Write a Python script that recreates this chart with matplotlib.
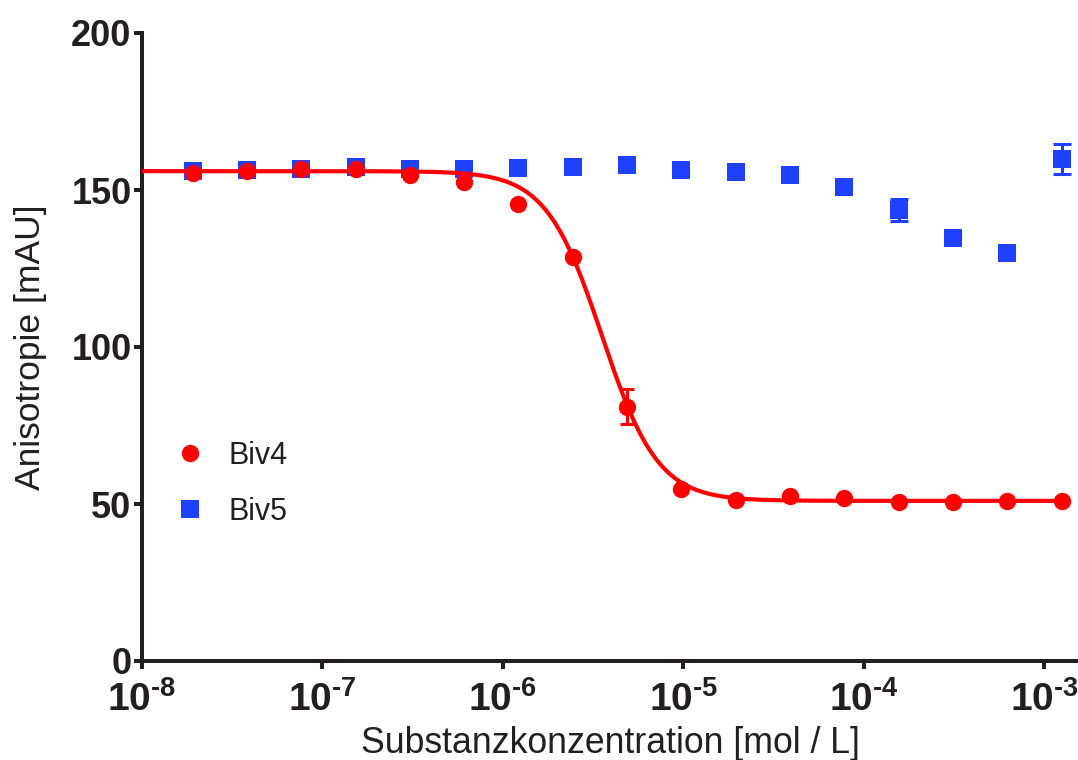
import numpy as np
import matplotlib
matplotlib.use("Agg")
import matplotlib.pyplot as plt
from matplotlib.lines import Line2D
from matplotlib.ticker import FixedLocator, FuncFormatter, NullLocator

plt.rcParams['font.family'] = ['Liberation Sans', 'DejaVu Sans']
plt.rcParams['mathtext.fontset'] = 'custom'
plt.rcParams['mathtext.bf'] = 'Liberation Sans:bold'
plt.rcParams['mathtext.rm'] = 'Liberation Sans:bold'

# Concentration series (mol / L), two-fold dilutions
conc = [1.907e-8, 3.815e-8, 7.629e-8, 1.526e-7, 3.052e-7, 6.104e-7,
        1.221e-6, 2.441e-6, 4.883e-6, 9.766e-6, 1.953e-5, 3.906e-5,
        7.813e-5, 1.563e-4, 3.125e-4, 6.25e-4, 1.25e-3]

# Anisotropy (mAU) and standard deviations
biv4 = [155.5, 156.1, 156.7, 156.6, 154.8, 152.6, 145.5, 128.8, 81.0,
        54.9, 51.3, 52.4, 52.0, 50.6, 50.6, 50.9, 51.1]
biv4_err = [0, 0, 0, 0, 0, 0, 0, 0, 5.6, 0, 0, 0, 0, 0, 0, 0, 0]

biv5 = [156.1, 156.4, 156.8, 157.2, 156.8, 156.6, 157.1, 157.3, 158.1,
        156.5, 155.8, 154.8, 150.8, 143.6, 134.8, 129.8, 159.9]
biv5_err = [0, 0, 0, 0, 0, 0, 0, 0, 0, 0, 0, 0, 0, 3.5, 0, 0, 4.8]

# Four-parameter logistic fit for Biv4
fit_top = 156.0
fit_bottom = 51.0
fit_log_ic50 = -5.45
fit_hill = 2.8

x_ticks = [1e-8, 1e-7, 1e-6, 1e-5, 1e-4, 1e-3]
y_ticks = [0, 50, 100, 150, 200]

RED = '#ff0000'
BLUE = '#2040ff'
INK = '#231f20'
HYPHEN = '\u2010'


def with_error(x, y, err):
    """Keep only the points that carry a non-zero error."""
    keep = [i for i, e in enumerate(err) if e > 0]
    return [x[i] for i in keep], [y[i] for i in keep], [err[i] for i in keep]


def decade_label(v, pos):
    exp = int(round(np.log10(v)))
    sign = HYPHEN if exp < 0 else ''
    return '$\\mathbf{10^{' + sign + str(abs(exp)) + '}}$'


fig = plt.figure(figsize=(10.78, 7.60), dpi=100)
ax = fig.add_axes([142 / 1078, 1 - 661 / 760, 1 - 142 / 1078, (661 - 33) / 760])

ax.set_xscale('log')
ax.set_xlim(1e-8, 10 ** -2.812)
ax.set_ylim(0, 200)

# Biv5: error bars, then square markers
ex, ey, ee = with_error(conc, biv5, biv5_err)
ax.errorbar(ex, ey, yerr=ee, fmt='none', ecolor=BLUE,
            elinewidth=2.2, capsize=6.5, capthick=2.2, zorder=2, clip_on=False)
ax.plot(conc, biv5, 's', color=BLUE, markersize=12.5, markeredgewidth=0,
        zorder=3, clip_on=False)

# Biv4 fitted curve
xf = np.logspace(-8, np.log10(1.32e-3), 600)
yf = fit_bottom + (fit_top - fit_bottom) / (1 + 10 ** ((np.log10(xf) - fit_log_ic50) * fit_hill))
ax.plot(xf, yf, color=RED, lw=3.0, zorder=4, solid_capstyle='butt')

# Biv4: error bars, then circle markers
ex, ey, ee = with_error(conc, biv4, biv4_err)
ax.errorbar(ex, ey, yerr=ee, fmt='none', ecolor=RED,
            elinewidth=2.2, capsize=5.0, capthick=2.2, zorder=4.5, clip_on=False)
ax.plot(conc, biv4, 'o', color=RED, markersize=12.5, markeredgewidth=0,
        zorder=5, clip_on=False)

# Axes styling
for side in ('top', 'right'):
    ax.spines[side].set_visible(False)
for side in ('left', 'bottom'):
    ax.spines[side].set_linewidth(2.9)
    ax.spines[side].set_color(INK)

ax.xaxis.set_major_locator(FixedLocator(x_ticks))
ax.xaxis.set_minor_locator(NullLocator())
ax.xaxis.set_major_formatter(FuncFormatter(decade_label))
ax.yaxis.set_major_locator(FixedLocator(y_ticks))

ax.tick_params(axis='both', which='major', direction='out', length=5.5,
               width=2.9, color=INK, labelcolor=INK)
ax.tick_params(axis='y', pad=2, labelsize=26)
ax.tick_params(axis='x', pad=9, labelsize=28)
for lab in ax.get_yticklabels():
    lab.set_fontweight('bold')

ax.set_xlabel('Substanzkonzentration [mol / L]', fontsize=25.7, color=INK)
ax.set_ylabel('Anisotropie [mAU]', fontsize=25.5, color=INK)
ax.xaxis.set_label_coords(0.5, -0.103)
ax.yaxis.set_label_coords(-0.102, 0.5)

handles = [
    Line2D([], [], marker='o', ls='none', color=RED, markersize=12.5, markeredgewidth=0),
    Line2D([], [], marker='s', ls='none', color=BLUE, markersize=12.5, markeredgewidth=0),
]
leg = ax.legend(handles, ['Biv4', 'Biv5'], loc='center left',
                bbox_to_anchor=(0.0353, 0.2826), frameon=False, fontsize=22,
                handlelength=1.0, handletextpad=0.75, labelspacing=0.85,
                borderpad=0, borderaxespad=0)
for t in leg.get_texts():
    t.set_color(INK)

fig.savefig('out.png', dpi=100)
